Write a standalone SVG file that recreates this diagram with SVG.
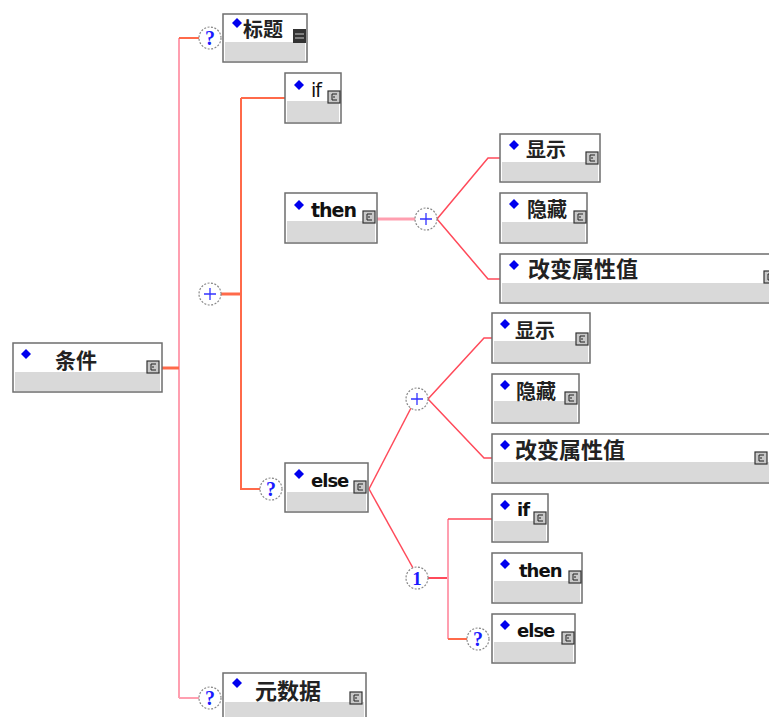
<svg xmlns="http://www.w3.org/2000/svg" width="769" height="717" viewBox="0 0 769 717">
<style>
.box{fill:#fff;stroke:#6e6e6e;stroke-width:1.5}
.band{fill:#d9d9d9}
.dia{fill:#0000ee}
.cn{font-family:"Noto Sans CJK SC","Noto Sans CJK JP",sans-serif;font-weight:bold;fill:#222}
.en{font-family:"DejaVu Sans","Liberation Sans",sans-serif;font-weight:bold;fill:#111;letter-spacing:-1px}
.ic{fill:#c8c8c8;stroke:#333;stroke-width:1.2}
.icg{fill:none;stroke:#222;stroke-width:1}
.pk{stroke:#ff9fb0;stroke-width:2;fill:none}
.or{stroke:#ff6a4a;stroke-width:2;fill:none}
.rd{stroke:#ff4a5a;stroke-width:1.5;fill:none}
.cc{fill:#fff;stroke:#888;stroke-width:1.2;stroke-dasharray:2 1.5}
.sym{font-family:"Liberation Serif",serif;font-weight:bold;fill:#1a1aff;text-anchor:middle}
.plus{stroke:#3333ff;stroke-width:1.3}
</style>
<defs>
<g id="icon"><rect class="ic" x="0" y="0" width="12" height="12"/><path class="icg" d="M9 3H4V9H9M6 5V7"/></g>
<g id="q"><circle class="cc" r="11"/><text class="sym" y="7" font-size="20">?</text></g>
<g id="p"><circle class="cc" r="11"/><path class="plus" d="M-6 0H6M0 -6V6"/></g>
</defs>

<g id="connectors">
<path class="pk" d="M179 38V698"/>
<path class="or" d="M179 38H199"/>
<path class="or" d="M162 368H179" style="stroke-width:3"/>
<path class="pk" d="M179 698H199"/>
<path class="or" d="M221 294H241" style="stroke-width:3"/>
<path class="or" d="M241 98V489H260"/>
<path class="or" d="M241 98H285"/>
<path class="pk" d="M377 219H415" style="stroke-width:3"/>
<path class="rd" d="M437 219L488 158H500"/>
<path class="rd" d="M437 219L488 279H500"/>
<path class="rd" d="M369 489L411 408"/>
<path class="rd" d="M428 399L484 338H492"/>
<path class="rd" d="M428 399L484 458H492"/>
<path class="rd" d="M369 489L413 568"/>
<path class="rd" d="M428 578H448" style="stroke-width:2"/>
<path class="pk" d="M448 519V639"/>
<path class="rd" d="M448 519H492"/>
<path class="or" d="M448 639H467"/>
</g>

<g id="c-title-q"><use href="#q" x="210" y="38"/></g>
<g id="c-seq-plus"><use href="#p" x="210" y="294"/></g>
<g id="c-else-q"><use href="#q" x="271" y="489"/></g>
<g id="c-meta-q"><use href="#q" x="210" y="698"/></g>
<g id="c-then-plus"><use href="#p" x="426" y="219"/></g>
<g id="c-else-plus"><use href="#p" x="417" y="399"/></g>
<g id="c-else-one"><circle class="cc" cx="417" cy="578" r="11"/><text class="sym" x="417" y="585" font-size="19">1</text></g>
<g id="c-else2-q"><use href="#q" x="478" y="639"/></g>

<g id="n-tiaojian">
<rect class="box" x="13" y="343" width="149" height="49"/><rect class="band" x="15" y="372" width="145" height="19"/>
<path class="dia" d="M26 349L31 354L26 359L21 354Z"/>
<text class="cn" x="55" y="368" font-size="21">条件</text>
<use href="#icon" x="147" y="361"/>
</g>

<g id="n-biaoti">
<rect class="box" x="223" y="14" width="84" height="48"/><rect class="band" x="225" y="42" width="80" height="19"/>
<path class="dia" d="M237 18L242 23L237 28L232 23Z"/>
<text class="cn" x="243" y="37" font-size="20">标题</text>
<rect x="293" y="29" width="13" height="14" fill="#333"/><path d="M295 34H304M295 38H304" stroke="#ccc" stroke-width="1"/>
</g>

<g id="n-if">
<rect class="box" x="285" y="73" width="56" height="50"/><rect class="band" x="287" y="101" width="52" height="21"/>
<path class="dia" d="M299 80L304 85L299 90L294 85Z"/>
<text class="en" x="311" y="97" font-size="19" style="font-weight:normal">if</text>
<use href="#icon" x="328" y="91"/>
</g>

<g id="n-then">
<rect class="box" x="285" y="193" width="92" height="50"/><rect class="band" x="287" y="221" width="88" height="21"/>
<path class="dia" d="M299 200L304 205L299 210L294 205Z"/>
<text class="en" x="311" y="217" font-size="19">then</text>
<use href="#icon" x="363" y="211"/>
</g>

<g id="n-else">
<rect class="box" x="285" y="463" width="83" height="49"/><rect class="band" x="287" y="492" width="79" height="19"/>
<path class="dia" d="M299 469L304 474L299 479L294 474Z"/>
<text class="en" x="311" y="487" font-size="18">else</text>
<use href="#icon" x="354" y="481"/>
</g>

<g id="n-yuanshuju">
<rect class="box" x="223" y="673" width="143" height="48"/><rect class="band" x="225" y="702" width="139" height="17"/>
<path class="dia" d="M237 678L242 683L237 688L232 683Z"/>
<text class="cn" x="255" y="699" font-size="22">元数据</text>
<use href="#icon" x="350" y="692"/>
</g>

<g id="n-xianshi1">
<rect class="box" x="500" y="134" width="100" height="48"/><rect class="band" x="502" y="162" width="96" height="19"/>
<path class="dia" d="M514 140L519 145L514 150L509 145Z"/>
<text class="cn" x="526" y="157" font-size="20">显示</text>
<use href="#icon" x="586" y="152"/>
</g>

<g id="n-yincang1">
<rect class="box" x="500" y="193" width="87" height="50"/><rect class="band" x="502" y="222" width="83" height="20"/>
<path class="dia" d="M514 199L519 204L514 209L509 204Z"/>
<text class="cn" x="527" y="217" font-size="20">隐藏</text>
<use href="#icon" x="574" y="211"/>
</g>

<g id="n-gaibian1">
<rect class="box" x="500" y="254" width="271" height="49"/><rect class="band" x="502" y="283" width="267" height="19"/>
<path class="dia" d="M514 260L519 265L514 270L509 265Z"/>
<text class="cn" x="528" y="277" font-size="22">改变属性值</text>
<use href="#icon" x="764" y="271"/>
</g>

<g id="n-xianshi2">
<rect class="box" x="492" y="313" width="98" height="50"/><rect class="band" x="494" y="341" width="94" height="21"/>
<path class="dia" d="M505 319L510 324L505 329L500 324Z"/>
<text class="cn" x="515" y="338" font-size="20">显示</text>
<use href="#icon" x="576" y="333"/>
</g>

<g id="n-yincang2">
<rect class="box" x="492" y="374" width="87" height="49"/><rect class="band" x="494" y="401" width="83" height="21"/>
<path class="dia" d="M505 380L510 385L505 390L500 385Z"/>
<text class="cn" x="516" y="399" font-size="20">隐藏</text>
<use href="#icon" x="565" y="392"/>
</g>

<g id="n-gaibian2">
<rect class="box" x="492" y="434" width="279" height="49"/><rect class="band" x="494" y="462" width="275" height="20"/>
<path class="dia" d="M505 440L510 445L505 450L500 445Z"/>
<text class="cn" x="515" y="458" font-size="22">改变属性值</text>
<use href="#icon" x="755" y="452"/>
</g>

<g id="n-if2">
<rect class="box" x="492" y="494" width="56" height="48"/><rect class="band" x="494" y="521" width="52" height="20"/>
<path class="dia" d="M505 500L510 505L505 510L500 505Z"/>
<text class="en" x="517" y="516" font-size="18">if</text>
<use href="#icon" x="534" y="512"/>
</g>

<g id="n-then2">
<rect class="box" x="492" y="553" width="90" height="50"/><rect class="band" x="494" y="581" width="86" height="21"/>
<path class="dia" d="M505 559L510 564L505 569L500 564Z"/>
<text class="en" x="519" y="577" font-size="18">then</text>
<use href="#icon" x="569" y="571"/>
</g>

<g id="n-else2">
<rect class="box" x="492" y="614" width="83" height="49"/><rect class="band" x="494" y="642" width="79" height="20"/>
<path class="dia" d="M505 620L510 625L505 630L500 625Z"/>
<text class="en" x="517" y="637" font-size="18">else</text>
<use href="#icon" x="562" y="632"/>
</g>
</svg>
